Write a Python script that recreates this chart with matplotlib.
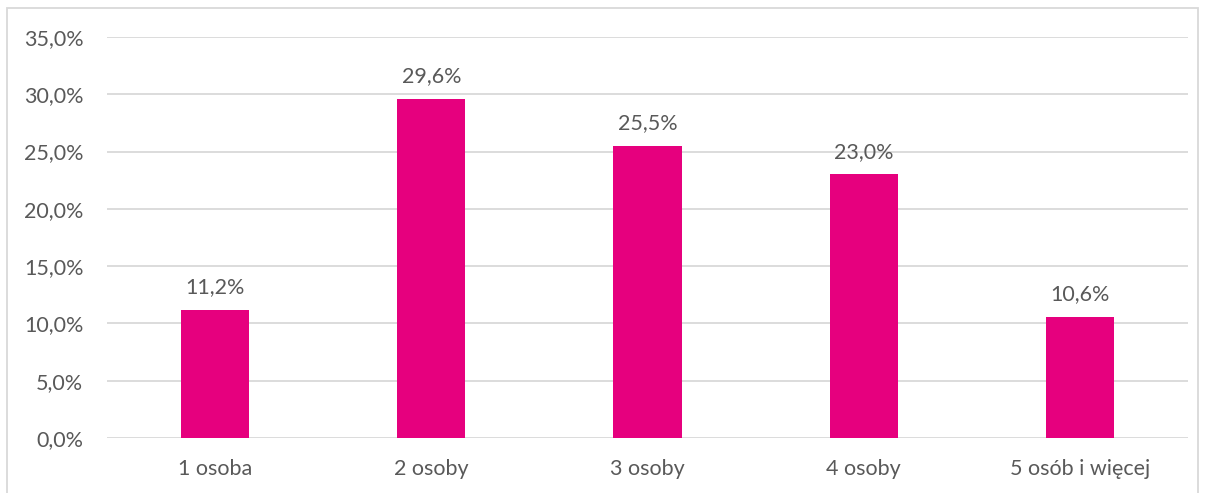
import matplotlib.pyplot as plt
from matplotlib.patches import Rectangle
import numpy as np

categories = ['1 osoba', '2 osoby', '3 osoby', '4 osoby', '5 osób i więcej']
values = [11.2, 29.6, 25.5, 23.0, 10.6]
yticks = [0, 5, 10, 15, 20, 25, 30, 35]

plt.rcParams['font.family'] = ['Lato', 'DejaVu Sans']
txt_color = '#595959'
fs = 15.5

fig = plt.figure(figsize=(12.06, 4.93), dpi=100)
ax = fig.add_axes([107 / 1206, 55 / 493, 1081 / 1206, 401 / 493])

x = np.arange(len(categories))
ax.bar(x, values, width=0.315, color='#E6007E', zorder=3)

# value labels
for xi, v in zip(x, values):
    ax.annotate(f'{v:.1f}%'.replace('.', ','), (xi, v), xytext=(0, 9),
                textcoords='offset points', ha='center', va='bottom',
                fontsize=fs, color=txt_color)

ax.set_xlim(-0.5, len(categories) - 0.5)
ax.set_ylim(0, 35)
ax.set_yticks(yticks)
ax.set_yticklabels([f'{t:.1f}%'.replace('.', ',') for t in yticks])
ax.set_xticks(x)
ax.set_xticklabels(categories)
ax.tick_params(length=0, labelsize=fs, labelcolor=txt_color)
ax.tick_params(axis='y', pad=17)
ax.tick_params(axis='x', pad=15)
ax.grid(axis='y', color='#d9d9d9', linewidth=1.3, zorder=0)
for s in ax.spines.values():
    s.set_visible(False)

# outer chart border
fig.patches.append(Rectangle((7 / 1206, -0.05), 1191 / 1206, 1 - 8 / 493 + 0.05,
                             transform=fig.transFigure, fill=False,
                             edgecolor='#d9d9d9', linewidth=1.3))

fig.savefig('out.png', dpi=100)
